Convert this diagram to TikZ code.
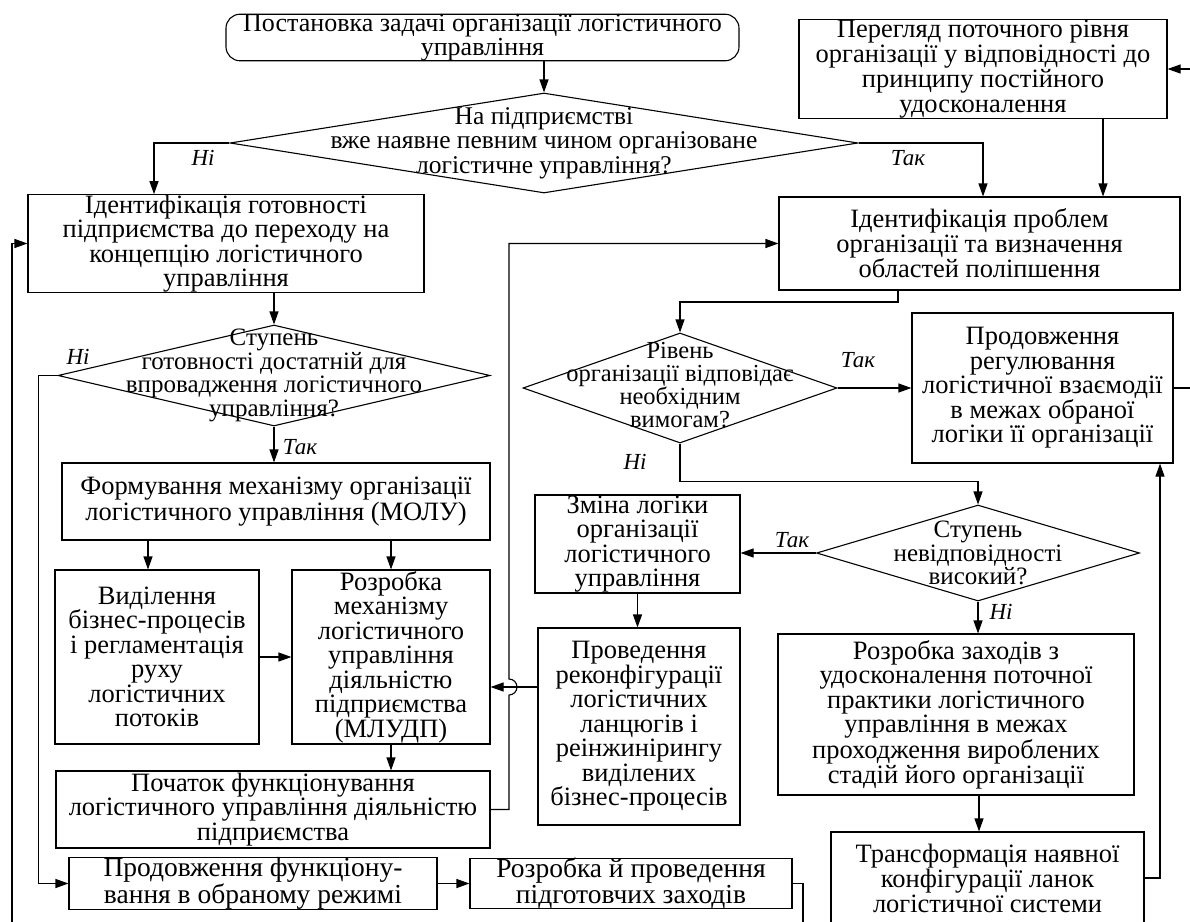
\documentclass[tikz,border=0pt]{standalone}
\usepackage{fontspec}
\setmainfont{Liberation Serif}
\usetikzlibrary{arrows.meta,shapes.geometric,calc}
\begin{document}
\begin{tikzpicture}[x=1pt,y=-1pt,
  box/.style={draw, line width=1.1pt, align=center, inner sep=0pt, font=\fontsize{26.5}{24.5}\selectfont},
  dia/.style={draw, diamond, line width=1.1pt, inner sep=0pt},
  dtext/.style={align=center, inner sep=0pt, font=\fontsize{25}{23.5}\selectfont},
  lab/.style={inner sep=0pt, font=\fontsize{23}{23}\selectfont\itshape},
  ln/.style={line width=1.1pt},
  arr/.style={line width=1.1pt, -{Triangle[length=13pt,width=9pt]}}]
\useasboundingbox (0,0) rectangle (1190,921);

% nodes
\node[box, rounded corners=14pt, minimum width=513pt, minimum height=45pt, font=\fontsize{26}{22.5}\selectfont] (start) at (482.5,37.5) {Постановка задачі організації логістичного\\управління};
\node[dia, minimum width=628pt, minimum height=100pt] (D1) at (544,143) {};
\node[dtext, font=\fontsize{25.5}{24.5}\selectfont] (D1t) at (D1.center) {На підприємстві\\вже наявне певним чином організоване\\логістичне управління?};
\node[box, minimum width=368pt, minimum height=98pt, font=\fontsize{26.5}{25}\selectfont] (R0) at (983,69) {Перегляд поточного рівня\\організації у відповідності до\\принципу постійного\\удосконалення};
\node[box, minimum width=396pt, minimum height=93pt] (L1) at (226,243.5) {Ідентифікація готовності\\підприємства до переходу на\\концепцію логістичного\\управління};
\node[box, minimum width=401pt, minimum height=93pt] (R1) at (979.5,243.5) {Ідентифікація проблем\\організації та визначення\\областей поліпшення};
\node[dia, minimum width=432pt, minimum height=101pt] (D2) at (274,375.5) {};
\node[dtext] (D2t) at (D2.center) {Ступень\\готовності достатній для\\впровадження логістичного\\управління?};
\node[dia, minimum width=314pt, minimum height=110pt] (D3) at (680,388) {};
\node[dtext, font=\fontsize{24.5}{23}\selectfont] (D3t) at (680,385.5) {Рівень\\організації відповідає\\необхідним\\вимогам?};
\node[box, minimum width=261pt, minimum height=150pt] (R2) at (1042.5,388) {Продовження\\регулювання\\логістичної взаємодії\\в межах обраної\\логіки її організації};
\node[box, minimum width=428pt, minimum height=77pt, font=\fontsize{26.5}{26}\selectfont] (L2) at (276,501.5) {Формування механізму організації\\логістичного управління (МОЛУ)};
\node[box, minimum width=205pt, minimum height=98pt] (R3) at (637.5,544) {Зміна логіки\\організації\\логістичного\\управління};
\node[dia, minimum width=323pt, minimum height=96pt] (D4) at (978,553) {};
\node[dtext] (D4t) at (D4.center) {Ступень\\невідповідності\\високий?};
\node[box, minimum width=204pt, minimum height=174pt] (L3a) at (157,657) {Виділення\\бізнес-процесів\\і регламентація\\руху\\логістичних\\потоків};
\node[box, minimum width=198pt, minimum height=174pt] (L3b) at (391,657) {Розробка\\механізму\\логістичного\\управління\\діяльністю\\підприємства\\(МЛУДП)};
\node[box, minimum width=202pt, minimum height=197pt] (R4) at (639,726.5) {Проведення\\реконфігурації\\логістичних\\ланцюгів і\\реінжинірингу\\виділених\\бізнес-процесів};
\node[box, minimum width=356pt, minimum height=161pt] (R5) at (956,714.5) {Розробка заходів з\\удосконалення поточної\\практики логістичного\\управління в межах\\проходження вироблених\\стадій його організації};
\node[box, minimum width=434pt, minimum height=77pt] (L4) at (273,809.5) {Початок функціонування\\логістичного управління діяльністю\\підприємства};
\node[box, minimum width=313pt, minimum height=92pt, font=\fontsize{26.5}{25}\selectfont] (R6) at (987.5,878) {Трансформація наявної\\конфігурації ланок\\логістичної системи};
\node[box, minimum width=368pt, minimum height=45pt, font=\fontsize{27.5}{25.5}\selectfont] (B1) at (253,883.5) {Продовження функціону-\\вання в обраному режимі};
\node[box, minimum width=322pt, minimum height=45pt, font=\fontsize{27.5}{25.5}\selectfont] (B2) at (631,883.5) {Розробка й проведення\\підготовчих заходів};

% labels
\node[lab] (n1) at (203,158) {Ні};
\node[lab] (t1) at (908,158) {Так};
\node[lab] (n2) at (78,357) {Ні};
\node[lab] (t2) at (300,447) {Так};
\node[lab] (t3) at (858,360) {Так};
\node[lab] (n3) at (635,462) {Ні};
\node[lab] (t4) at (792,540) {Так};
\node[lab] (n4) at (1001,612) {Ні};

% helper coordinates
\coordinate (c1) at ([xshift=-72pt]L1.north);
\coordinate (c2) at ([xshift=3.5pt]R1.north);
\coordinate (r0s) at ([xshift=120pt]R0.south);
\coordinate (re) at (1198,0);
\coordinate (c3) at ([xshift=-19pt]D2.west);
\coordinate (c4) at ([xshift=-9pt]L3a.north);
\coordinate (hy) at (0,687);
\coordinate (vx) at (509,0);
\coordinate (hopB) at (509,695);
\coordinate (k1) at (898,302);
\coordinate (r1s) at (R1.south -| k1);
\coordinate (k2) at ($(D3.south)+(0,38)$);
\coordinate (c5) at (979,0);
\coordinate (c6) at (1160,0);
\coordinate (bEnd) at (803,935);
\coordinate (lEnd) at (12,935);

% connectors
\draw[arr] (D1.north |- start.south) -- (D1.north);
\draw[arr] (D1.west) -| (c1);
\draw[arr] (D1.east) -| (c2);
\draw[arr] (r0s) -- (r0s |- R1.north);
\draw[arr] (R2.east) -| (re |- R0.east) -- (R0.east);
\draw[arr] (D2.north |- L1.south) -- (D2.north);
\draw[arr] (D2.west) -- (c3) |- (B1.west);
\draw[arr] (D2.south) -- (D2.south |- L2.north);
\draw[arr] (c4 |- L2.south) -- (c4);
\draw[arr] (L3b.north |- L2.south) -- (L3b.north);
\draw[arr] (L3a.east) -- (L3a.east -| L3b.west);
\draw[arr] (L3b.south) -- (L3b.south |- L4.north);
\draw[arr] (L4.east) -| (hopB) arc[start angle=-90, end angle=90, radius=8pt] -- (vx |- R1.west) -- (R1.west);
\draw[arr] (r1s) -- (k1) -| (D3.north);
\draw[arr] (D3.east) -- (R2.west);
\draw[arr] (D3.south) -- (k2) -| (D4.north);
\draw[arr] (D4.west) -- (D4.west -| R3.east);
\draw[arr] (R3.south) -- (R3.south |- R4.north);
\draw[arr] (R4.west |- hy) -- (L3b.east |- hy);
\draw[arr] (D4.south) -- (D4.south |- R5.north);
\draw[arr] (c5 |- R5.south) -- (c5 |- R6.north);
\draw[arr] (R6.east) -| (c6 |- R2.south);
\draw[arr] (B1.east) -- (B2.west);
\draw[ln] (B2.east) -| (bEnd);
\draw[arr] (lEnd) |- (L1.west);
\end{tikzpicture}
\end{document}
